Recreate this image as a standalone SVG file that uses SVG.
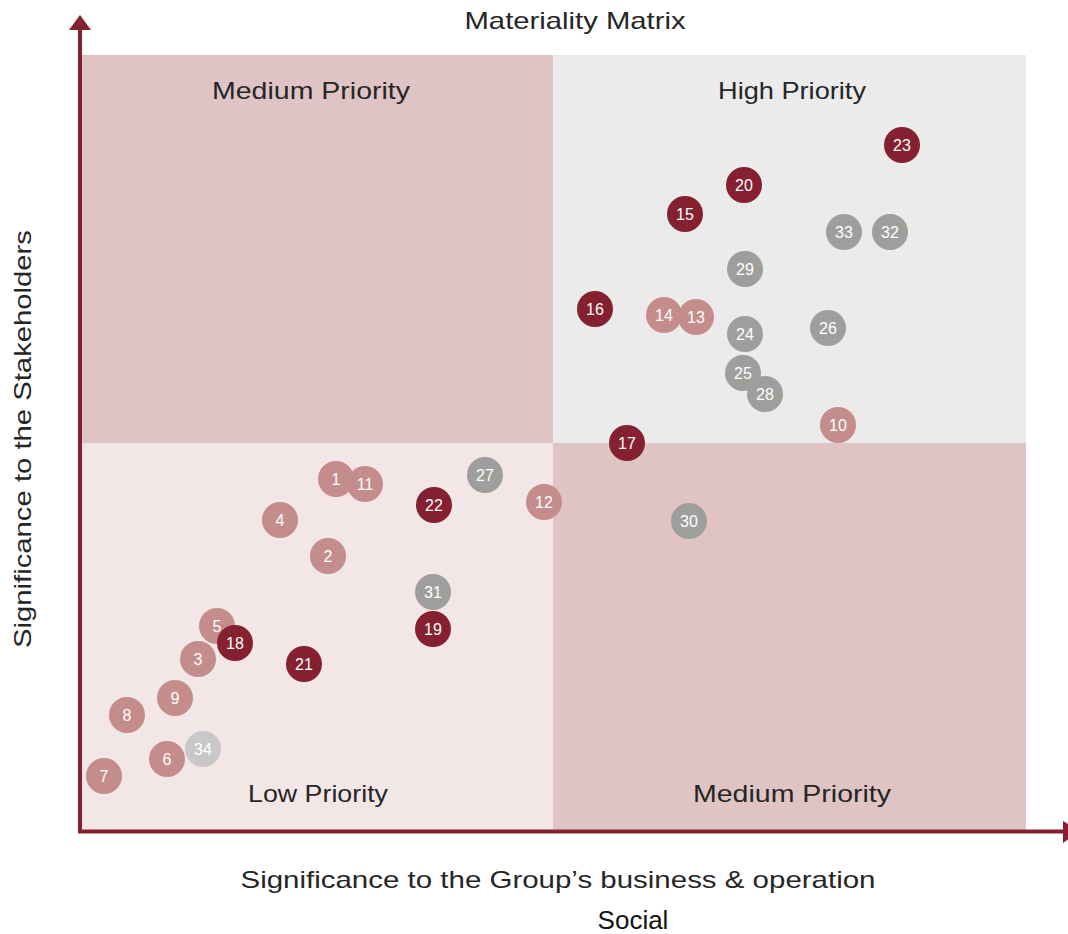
<svg xmlns="http://www.w3.org/2000/svg" width="1068" height="934" viewBox="0 0 1068 934">
<defs>
<style>
.t{font-family:"Liberation Sans",Arial,sans-serif;fill:#262626;font-size:24px;text-anchor:middle}
.n{font-family:"Liberation Sans",Arial,sans-serif;fill:#ffffff;font-size:16px;text-anchor:middle}
.d{fill:#84202f}.p{fill:#c58c8c}.g{fill:#9e9e9c}.l{fill:#c8c8c8}
.ax{stroke:#84202f;stroke-width:4;fill:none}
</style>
</defs>
<rect width="1068" height="934" fill="#ffffff"/>
<g id="quadrants">
<rect x="82" y="55" width="471" height="388" fill="#e0c4c5"/>
<rect x="553" y="55" width="473" height="388" fill="#ebebeb"/>
<rect x="82" y="443" width="471" height="388" fill="#f3e6e7"/>
<rect x="553" y="443" width="473" height="388" fill="#e0c4c4"/>
</g>
<g id="labels">
<text class="t" x="575" y="29" textLength="221" lengthAdjust="spacingAndGlyphs">Materiality Matrix</text>
<text class="t" x="311" y="99" textLength="198" lengthAdjust="spacingAndGlyphs">Medium Priority</text>
<text class="t" x="792" y="99" textLength="148" lengthAdjust="spacingAndGlyphs">High Priority</text>
<text class="t" x="318" y="802" textLength="140" lengthAdjust="spacingAndGlyphs">Low Priority</text>
<text class="t" x="792" y="802" textLength="198" lengthAdjust="spacingAndGlyphs">Medium Priority</text>
<text class="t" x="558" y="888" textLength="635" lengthAdjust="spacingAndGlyphs">Significance to the Group’s business &amp; operation</text>
<text class="t" x="633" y="929" style="font-size:26px;fill:#111">Social</text>
<text class="t" transform="translate(31,439) rotate(-90)" textLength="418" lengthAdjust="spacingAndGlyphs">Significance to the Stakeholders</text>
</g>
<g id="connectors">
<line class="ax" x1="80" y1="28" x2="80" y2="832"/>
<line class="ax" x1="78" y1="831.5" x2="1064" y2="831.5"/>
<polygon points="80,15 69,30 91,30" fill="#84202f"/>
<polygon points="1063,821 1080,831.5 1063,843" fill="#84202f"/>
</g>
<g id="n23"><circle class="d" cx="902" cy="145" r="18"/><text class="n" x="902" y="151">23</text></g>
<g id="n20"><circle class="d" cx="744" cy="185" r="18"/><text class="n" x="744" y="191">20</text></g>
<g id="n15"><circle class="d" cx="685" cy="214" r="18"/><text class="n" x="685" y="220">15</text></g>
<g id="n33"><circle class="g" cx="844" cy="232" r="18"/><text class="n" x="844" y="238">33</text></g>
<g id="n32"><circle class="g" cx="890" cy="232" r="18"/><text class="n" x="890" y="238">32</text></g>
<g id="n29"><circle class="g" cx="745" cy="269" r="18"/><text class="n" x="745" y="275">29</text></g>
<g id="n16"><circle class="d" cx="595" cy="309" r="18"/><text class="n" x="595" y="315">16</text></g>
<g id="n14"><circle class="p" cx="664" cy="315" r="18"/><text class="n" x="664" y="321">14</text></g>
<g id="n13"><circle class="p" cx="696" cy="317" r="18"/><text class="n" x="696" y="323">13</text></g>
<g id="n24"><circle class="g" cx="745" cy="334" r="18"/><text class="n" x="745" y="340">24</text></g>
<g id="n26"><circle class="g" cx="828" cy="328" r="18"/><text class="n" x="828" y="334">26</text></g>
<g id="n25"><circle class="g" cx="743" cy="373" r="18"/><text class="n" x="743" y="379">25</text></g>
<g id="n28"><circle class="g" cx="765" cy="394" r="18"/><text class="n" x="765" y="400">28</text></g>
<g id="n10"><circle class="p" cx="838" cy="425" r="18"/><text class="n" x="838" y="431">10</text></g>
<g id="n17"><circle class="d" cx="627" cy="443" r="18"/><text class="n" x="627" y="449">17</text></g>
<g id="n30"><circle class="g" cx="689" cy="521" r="18"/><text class="n" x="689" y="527">30</text></g>
<g id="n1"><circle class="p" cx="336" cy="479" r="18"/><text class="n" x="336" y="485">1</text></g>
<g id="n11"><circle class="p" cx="365" cy="484" r="18"/><text class="n" x="365" y="490">11</text></g>
<g id="n27"><circle class="g" cx="485" cy="475" r="18"/><text class="n" x="485" y="481">27</text></g>
<g id="n22"><circle class="d" cx="434" cy="505" r="18"/><text class="n" x="434" y="511">22</text></g>
<g id="n12"><circle class="p" cx="544" cy="502" r="18"/><text class="n" x="544" y="508">12</text></g>
<g id="n4"><circle class="p" cx="280" cy="520" r="18"/><text class="n" x="280" y="526">4</text></g>
<g id="n2"><circle class="p" cx="328" cy="556" r="18"/><text class="n" x="328" y="562">2</text></g>
<g id="n31"><circle class="g" cx="433" cy="592" r="18"/><text class="n" x="433" y="598">31</text></g>
<g id="n19"><circle class="d" cx="433" cy="629" r="18"/><text class="n" x="433" y="635">19</text></g>
<g id="n5"><circle class="p" cx="217" cy="626" r="18"/><text class="n" x="217" y="632">5</text></g>
<g id="n18"><circle class="d" cx="235" cy="643" r="18"/><text class="n" x="235" y="649">18</text></g>
<g id="n3"><circle class="p" cx="198" cy="659" r="18"/><text class="n" x="198" y="665">3</text></g>
<g id="n21"><circle class="d" cx="304" cy="664" r="18"/><text class="n" x="304" y="670">21</text></g>
<g id="n9"><circle class="p" cx="175" cy="698" r="18"/><text class="n" x="175" y="704">9</text></g>
<g id="n8"><circle class="p" cx="127" cy="715" r="18"/><text class="n" x="127" y="721">8</text></g>
<g id="n34"><circle class="l" cx="203" cy="749" r="18"/><text class="n" x="203" y="755">34</text></g>
<g id="n6"><circle class="p" cx="167" cy="759" r="18"/><text class="n" x="167" y="765">6</text></g>
<g id="n7"><circle class="p" cx="104" cy="776" r="18"/><text class="n" x="104" y="782">7</text></g>
</svg>
